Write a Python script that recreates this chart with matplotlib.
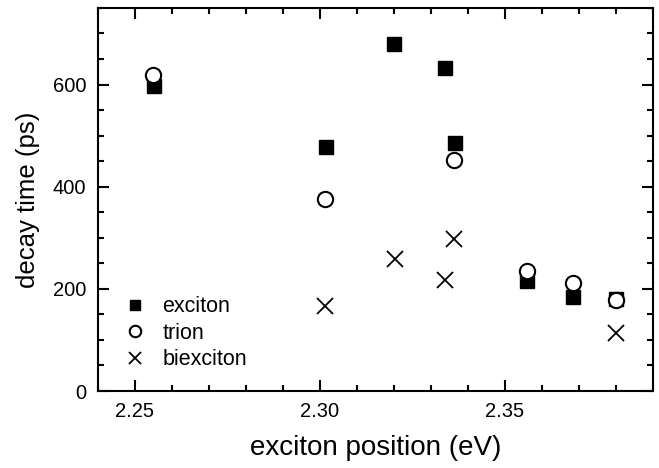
import matplotlib.pyplot as plt
from matplotlib.ticker import MultipleLocator

plt.rcParams["font.family"] = ["Liberation Sans", "DejaVu Sans"]

# exciton decay times vs. emission energy
exciton_e = [2.2552, 2.3016, 2.3200, 2.3337, 2.3365, 2.3559, 2.3685, 2.3799]
exciton_t = [598, 477, 679, 632, 486, 216, 184, 180]

trion_e = [2.2551, 2.3014, 2.3363, 2.3559, 2.3685, 2.3799]
trion_t = [618, 375, 452, 235, 211, 179]

biexciton_e = [2.3014, 2.3203, 2.3338, 2.3363, 2.3799]
biexciton_t = [166, 258, 217, 297, 114]


def main() -> None:
    fig = plt.figure(figsize=(6.59, 4.68), dpi=100)
    ax = fig.add_axes([0.148, 0.1645, 0.843, 0.8185])

    ax.plot(exciton_e, exciton_t, "s", color="black", ms=10.5, label="exciton")
    ax.plot(trion_e, trion_t, "o", mfc="white", mec="black", mew=1.5, ms=11,
            label="trion")
    ax.plot(biexciton_e, biexciton_t, "x", color="black", mew=1.3, ms=12,
            label="biexciton")

    ax.set_xlim(2.24, 2.39)
    ax.set_ylim(0, 750)
    ax.xaxis.set_major_locator(MultipleLocator(0.05))
    ax.xaxis.set_minor_locator(MultipleLocator(0.01))
    ax.yaxis.set_major_locator(MultipleLocator(200))
    ax.yaxis.set_minor_locator(MultipleLocator(50))
    ax.xaxis.set_major_formatter(lambda v, _: f"{v:.2f}")

    ax.tick_params(which="both", direction="in", top=True, right=True,
                   width=1.5, labelsize=14.5)
    ax.tick_params(which="major", length=8)
    ax.tick_params(axis="x", which="major", pad=8)
    ax.tick_params(axis="y", which="major", pad=8)
    ax.tick_params(which="minor", length=4)
    for s in ax.spines.values():
        s.set_linewidth(1.5)

    ax.set_xlabel("exciton position (eV)", fontsize=20, labelpad=10)
    ax.set_ylabel("decay time (ps)", fontsize=18.5, labelpad=9)

    ax.legend(loc="lower left", bbox_to_anchor=(0.013, 0.004), frameon=False,
              fontsize=15.5, handlelength=1.0, handletextpad=0.78,
              labelspacing=0.25, markerscale=0.75)

    fig.savefig("out.png", dpi=100)


if __name__ == "__main__":
    main()
